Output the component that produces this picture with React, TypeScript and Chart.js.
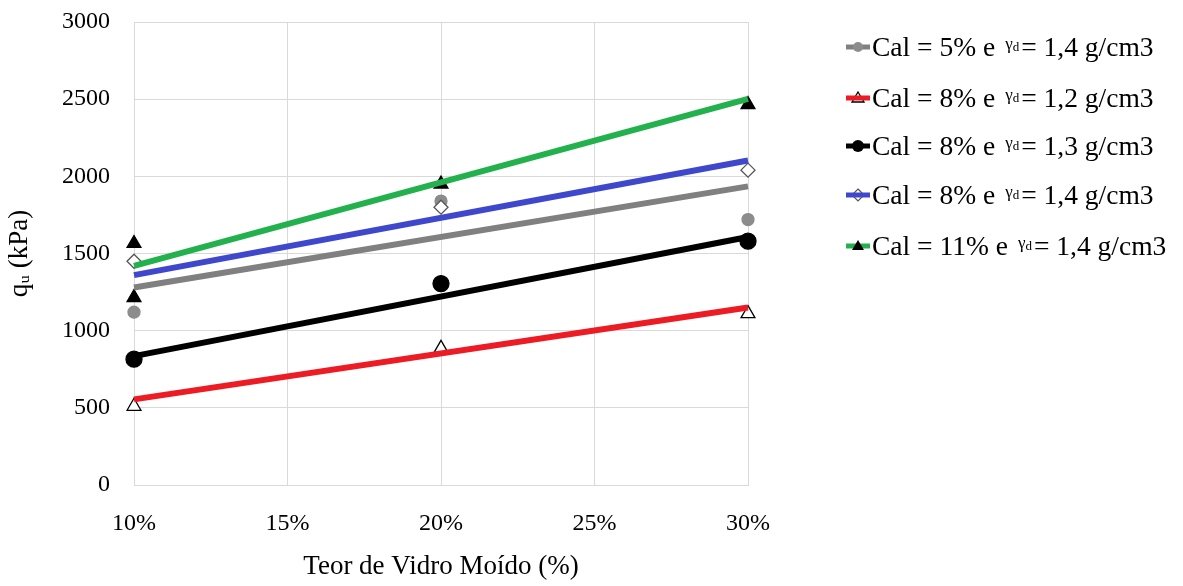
import React, { useEffect, useRef } from "react";
import { Chart, registerables } from "chart.js";

Chart.register(...registerables);

// ---- Data ----
const glassContent = [10, 20, 30]; // Teor de Vidro Moído (%)
const xTickValues = [10, 15, 20, 25, 30];
const yTickValues = [0, 500, 1000, 1500, 2000, 2500, 3000];

const seriesLabels = [
  { cal: "Cal = 5% e", gamma: "= 1,4 g/cm3" },
  { cal: "Cal = 8% e", gamma: "= 1,2 g/cm3" },
  { cal: "Cal = 8% e", gamma: "= 1,3 g/cm3" },
  { cal: "Cal = 8% e", gamma: "= 1,4 g/cm3" },
  { cal: "Cal = 11% e", gamma: "= 1,4 g/cm3" },
];

// measured qu (kPa)
const cal5g14 = [1120, 1840, 1720];
const cal8g12 = [510, 885, 1110];
const cal8g13 = [815, 1305, 1580];
const cal8g14 = [1450, 1800, 2040];
const cal11g14 = [1565, 1950, 2465];
// second specimen of Cal = 11% at 10 %
const cal11g14RepeatX = [10];
const cal11g14Repeat = [1215];

// linear trend lines (values at 10 % and 30 %)
const trendX = [10, 30];
const trend5g14 = [1280, 1935];
const trend8g12 = [555, 1150];
const trend8g13 = [835, 1607];
const trend8g14 = [1360, 2103];
const trend11g14 = [1420, 2502];

const lineColors = ["#808080", "#ed1c24", "#000000", "#3f48cc", "#22b14c"];

const pts = (xs: number[], ys: number[]) => xs.map((x, i) => ({ x, y: ys[i] }));

const FONT = "'Liberation Serif', 'Times New Roman', serif";

function LegendMarker({ idx }: { idx: number }) {
  const c = lineColors[idx];
  let marker: React.ReactNode = null;
  if (idx === 0) marker = <circle cx={13} cy={10} r={5} fill="#8c8c8c" />;
  if (idx === 1)
    marker = <polygon points="13,4 19,14 7,14" fill="#fff" stroke="#000" strokeWidth={1.3} />;
  if (idx === 2) marker = <circle cx={13} cy={10} r={6} fill="#000" />;
  if (idx === 3)
    marker = <polygon points="13,4 19,10 13,16 7,10" fill="#fff" stroke="#555" strokeWidth={1.2} />;
  if (idx === 4) marker = <polygon points="13,4 19,14 7,14" fill="#000" />;
  const lineFirst = idx === 1 || idx === 3;
  return (
    <svg width={26} height={20} style={{ display: "block", marginRight: 1 }}>
      {!lineFirst && <line x1={1} y1={10} x2={25} y2={10} stroke={c} strokeWidth={5} />}
      {marker}
      {lineFirst && <line x1={1} y1={10} x2={25} y2={10} stroke={c} strokeWidth={5} />}
    </svg>
  );
}

export default function App() {
  const ref = useRef<HTMLCanvasElement>(null);

  useEffect(() => {
    document.body.style.margin = "0";
    const tickFont = { family: FONT, size: 24 };
    const pointSets = [
      { data: pts(glassContent, cal5g14), style: "circle", r: 6, bg: "#8c8c8c", bc: "#8c8c8c" },
      { data: pts(glassContent, cal8g12), style: "triangle", r: 8, bg: "#ffffff", bc: "#000000" },
      { data: pts(glassContent, cal8g13), style: "circle", r: 8, bg: "#000000", bc: "#000000" },
      { data: pts(glassContent, cal8g14), style: "rectRot", r: 7, bg: "#ffffff", bc: "#555555" },
      {
        data: [...pts(glassContent, cal11g14), ...pts(cal11g14RepeatX, cal11g14Repeat)],
        style: "triangle",
        r: 8,
        bg: "#000000",
        bc: "#000000",
      },
    ];
    const trends = [trend5g14, trend8g12, trend8g13, trend8g14, trend11g14];

    const datasets: any[] = [];
    trends.forEach((t, i) => {
      datasets.push({
        label: "trend " + i,
        data: pts(trendX, t),
        showLine: true,
        borderColor: lineColors[i],
        borderWidth: 6,
        pointRadius: 0,
        order: 0,
        clip: false,
      });
    });
    pointSets.forEach((p, i) => {
      datasets.push({
        label: seriesLabels[i].cal + " γd " + seriesLabels[i].gamma,
        data: p.data,
        showLine: false,
        pointStyle: p.style,
        pointRadius: p.r,
        backgroundColor: p.bg,
        borderColor: p.bc,
        pointBorderWidth: 1.3,
        order: 1 + (4 - i),
        clip: false,
      });
    });

    const chart = new Chart(ref.current!, {
      type: "scatter",
      data: { datasets },
      options: {
        animation: false,
        responsive: false,
        layout: { padding: { top: 22, right: 435, bottom: 0, left: 0 } },
        plugins: { legend: { display: false }, tooltip: { enabled: false } },
        scales: {
          x: {
            type: "linear",
            min: 10,
            max: 30,
            afterBuildTicks: (s: any) => {
              s.ticks = xTickValues.map((v) => ({ value: v }));
            },
            afterFit: (s: any) => {
              s.height = 101;
            },
            ticks: {
              font: tickFont,
              color: "#000",
              padding: 24,
              callback: (v: any) => v + "%",
            },
            grid: { color: "#d9d9d9", drawTicks: false, lineWidth: 1 },
            border: { color: "#d9d9d9" },
            title: {
              display: true,
              text: "Teor de Vidro Moído (%)",
              font: { family: FONT, size: 27 },
              color: "#000",
              padding: { top: 0, bottom: 3 },
            },
          },
          y: {
            min: 0,
            max: 3000,
            afterBuildTicks: (s: any) => {
              s.ticks = yTickValues.map((v) => ({ value: v }));
            },
            afterFit: (s: any) => {
              s.width = 134;
              s.paddingTop = 0;
              s.paddingBottom = 0;
            },
            ticks: {
              font: tickFont,
              color: "#000",
              padding: 24,
              callback: (v: any) => String(v),
            },
            grid: { color: "#d9d9d9", drawTicks: false, lineWidth: 1 },
            border: { color: "#d9d9d9" },
            title: {
              display: true,
              text: "qᵤ (kPa)",
              font: { family: FONT, size: 27 },
              color: "#000",
              padding: { top: 4, bottom: 0 },
            },
          },
        },
      },
    });
    return () => chart.destroy();
  }, []);

  const rowCenters = [47, 98, 146, 195, 246];

  return (
    <div style={{ position: "absolute", left: 0, top: 0, width: 1183, height: 586, background: "#fff" }}>
      <canvas ref={ref} width={1183} height={586} style={{ display: "block" }} />
      <div style={{ position: "absolute", left: 0, top: 0 }}>
        {seriesLabels.map((s, i) => (
          <div
            key={i}
            style={{
              position: "absolute",
              left: 845,
              top: rowCenters[i] - 18,
              height: 36,
              display: "flex",
              alignItems: "center",
              whiteSpace: "nowrap",
              fontFamily: FONT,
              fontSize: 27.5,
              color: "#000",
            }}
          >
            <LegendMarker idx={i} />
            <span>
              {s.cal}
              <span style={{ fontSize: 17, position: "relative", top: -7, marginLeft: 10, marginRight: 2 }}>
                γ<span style={{ fontSize: 13, position: "relative", top: 2 }}>d</span>
              </span>
              {s.gamma}
            </span>
          </div>
        ))}
      </div>
    </div>
  );
}
